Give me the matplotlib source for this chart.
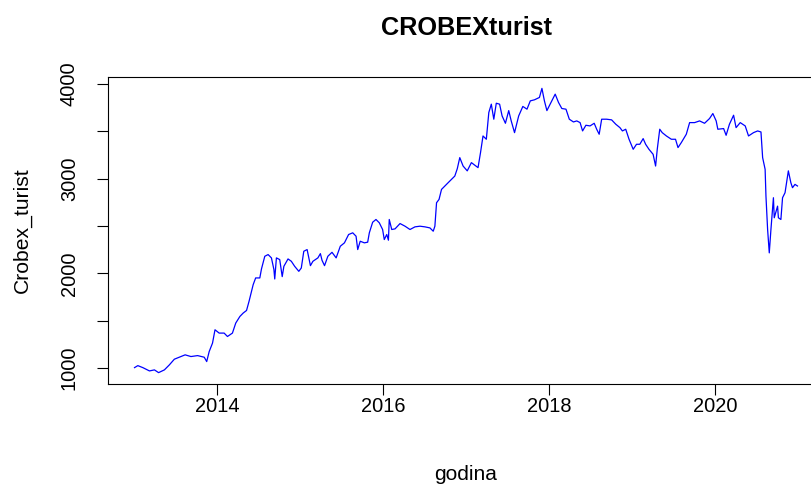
import matplotlib
matplotlib.use('Agg')
import matplotlib.pyplot as plt
from matplotlib.ticker import FixedLocator, FixedFormatter

# 数据：CROBEXturist 指数（年份为小数）
godina = [
    2013.00, 2013.04, 2013.10, 2013.18, 2013.24, 2013.29, 2013.36, 2013.42,
    2013.48, 2013.54, 2013.61, 2013.68, 2013.76, 2013.84, 2013.87, 2013.90,
    2013.94, 2013.97, 2014.02, 2014.08, 2014.12, 2014.18, 2014.22, 2014.27,
    2014.31, 2014.35, 2014.38, 2014.43, 2014.46, 2014.51, 2014.53, 2014.57,
    2014.61, 2014.65, 2014.68, 2014.69, 2014.71, 2014.75, 2014.78, 2014.80,
    2014.85, 2014.89, 2014.93, 2014.98, 2015.01, 2015.04, 2015.08, 2015.10,
    2015.12, 2015.15, 2015.21, 2015.24, 2015.26, 2015.29, 2015.33, 2015.38,
    2015.43, 2015.48, 2015.53, 2015.58, 2015.63, 2015.67, 2015.69, 2015.72,
    2015.77, 2015.81, 2015.83, 2015.87, 2015.91, 2015.95, 2015.99, 2016.01,
    2016.04, 2016.06, 2016.07, 2016.10, 2016.14, 2016.20, 2016.26, 2016.32,
    2016.38, 2016.44, 2016.50, 2016.56, 2016.60, 2016.62, 2016.64, 2016.67,
    2016.70, 2016.74, 2016.78, 2016.82, 2016.86, 2016.89, 2016.92, 2016.96,
    2017.01, 2017.06, 2017.14, 2017.17, 2017.20, 2017.24, 2017.27, 2017.30,
    2017.33, 2017.36, 2017.40, 2017.43, 2017.47, 2017.51, 2017.54, 2017.58,
    2017.63, 2017.68, 2017.73, 2017.77, 2017.82, 2017.88, 2017.91, 2017.94,
    2017.97, 2018.03, 2018.07, 2018.11, 2018.15, 2018.20, 2018.24, 2018.29,
    2018.33, 2018.37, 2018.40, 2018.44, 2018.49, 2018.54, 2018.57, 2018.60,
    2018.63, 2018.69, 2018.75, 2018.80, 2018.85, 2018.88, 2018.92, 2018.96,
    2019.01, 2019.05, 2019.09, 2019.13, 2019.16, 2019.20, 2019.25, 2019.28,
    2019.30, 2019.33, 2019.36, 2019.41, 2019.47, 2019.52, 2019.55, 2019.59,
    2019.65, 2019.69, 2019.75, 2019.81, 2019.87, 2019.93, 2019.97, 2020.01,
    2020.03, 2020.10, 2020.13, 2020.17, 2020.22, 2020.25, 2020.30, 2020.36,
    2020.40, 2020.46, 2020.51, 2020.55, 2020.57, 2020.60, 2020.61, 2020.63,
    2020.65, 2020.67, 2020.70, 2020.71, 2020.75, 2020.76, 2020.79, 2020.81,
    2020.84, 2020.88, 2020.91, 2020.93, 2020.96, 2020.99,
]
crobex_turist = [
    1003, 1024, 1003, 968, 979, 950, 979, 1032,
    1092, 1113, 1138, 1120, 1130, 1113, 1067, 1173,
    1262, 1403, 1368, 1368, 1332, 1368, 1474, 1544,
    1580, 1607, 1703, 1880, 1951, 1951, 2046, 2180,
    2198, 2163, 2039, 1940, 2163, 2145, 1965, 2074,
    2152, 2127, 2074, 2021, 2056, 2233, 2251, 2163,
    2081, 2127, 2163, 2208, 2137, 2081, 2180, 2222,
    2163, 2286, 2322, 2410, 2428, 2392, 2251, 2339,
    2322, 2329, 2428, 2540, 2569, 2534, 2463, 2357,
    2410, 2350, 2569, 2463, 2470, 2526, 2498, 2463,
    2491, 2498, 2491, 2480, 2445, 2498, 2746, 2781,
    2887, 2923, 2958, 2993, 3028, 3106, 3223, 3134,
    3083, 3170, 3117, 3276, 3452, 3417, 3700, 3788,
    3629, 3798, 3788, 3664, 3586, 3720, 3611, 3487,
    3664, 3764, 3735, 3823, 3834, 3859, 3955, 3823,
    3720, 3823, 3894, 3806, 3742, 3735, 3629, 3600,
    3611, 3593, 3505, 3565, 3558, 3586, 3523, 3470,
    3629, 3629, 3622, 3576, 3540, 3505, 3523, 3417,
    3311, 3364, 3364, 3424, 3364, 3311, 3258, 3134,
    3311, 3523, 3487, 3452, 3417, 3417, 3329, 3382,
    3470, 3593, 3593, 3611, 3586, 3636, 3689, 3611,
    3523, 3530, 3459, 3576, 3671, 3540, 3593, 3558,
    3452, 3487, 3505, 3494, 3223, 3099, 2817, 2463,
    2216, 2463, 2799, 2587, 2710, 2587, 2569, 2799,
    2852, 3083, 2958, 2905, 2940, 2923,
]
x_ticks = [2014, 2016, 2018, 2020]
y_ticks = [1000, 1500, 2000, 2500, 3000, 3500, 4000]
y_tick_labels = ['1000', '', '2000', '', '3000', '', '4000']

plt.rcParams['font.family'] = ['Liberation Sans', 'DejaVu Sans']

W, H = 811, 484
fig = plt.figure(figsize=(W / 100, H / 100), dpi=100)
# 坐标区：右边超出画布（原图被裁掉）
ax = fig.add_axes([108 / W, 1 - 384 / H, (824 - 108) / W, (384 - 77) / H])
ax.plot(godina, crobex_turist, color='#0000FF', linewidth=0.9)
ax.margins(x=0.04, y=0.04)

ax.xaxis.set_major_locator(FixedLocator(x_ticks))
ax.yaxis.set_major_locator(FixedLocator(y_ticks))
ax.yaxis.set_major_formatter(FixedFormatter(y_tick_labels))
for lab in ax.get_yticklabels():
    lab.set_rotation(90)
    lab.set_va('center')
ax.tick_params(direction='out', length=8, width=0.8, labelsize=14.4,
               colors='black')
ax.tick_params(axis='y', pad=13)
ax.tick_params(axis='x', pad=1)
for s in ax.spines.values():
    s.set_linewidth(0.8)
    s.set_color('black')

fig.text(466 / W, 1 - 28 / H, 'CROBEXturist', ha='center', va='center',
         fontsize=18.2, fontweight='bold')
fig.text(466 / W, 1 - 475 / H, 'godina', ha='center', va='center',
         fontsize=15)
fig.text(22 / W, 1 - 230 / H, 'Crobex_turist', ha='center', va='center',
         rotation=90, fontsize=15.2)

fig.savefig('out.png', dpi=100)
